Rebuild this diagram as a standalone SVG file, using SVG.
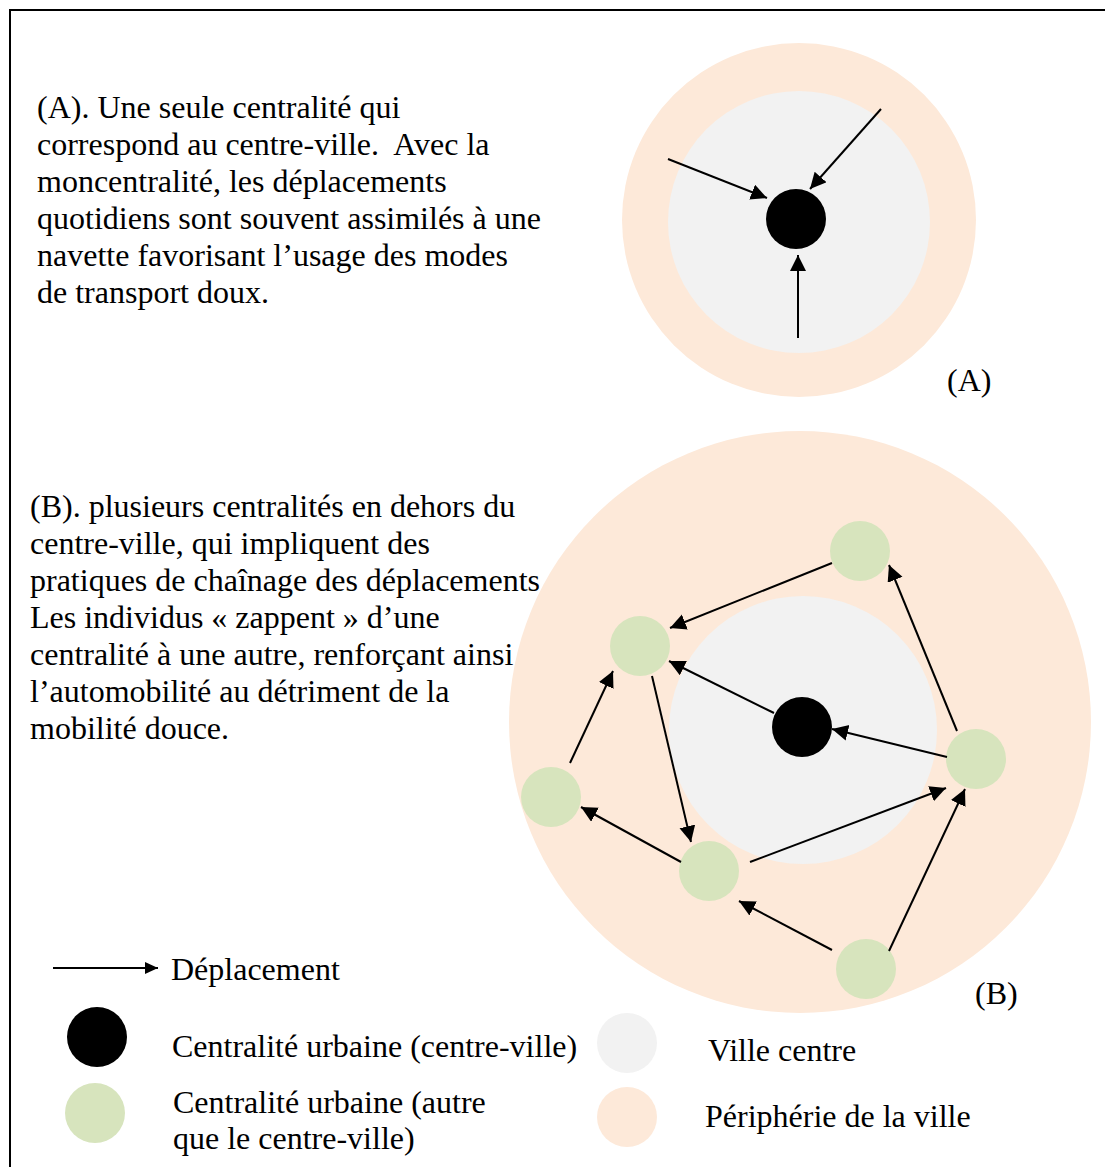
<svg xmlns="http://www.w3.org/2000/svg" width="1105" height="1167" viewBox="0 0 1105 1167">
<style>
text{font-family:"Liberation Serif","Times New Roman",serif;font-size:32px;fill:#000;white-space:pre}
.peach{fill:#FDE9D9}
.grey{fill:#F2F2F2}
.green{fill:#D7E4BD}
.black{fill:#000}
.conn line{stroke:#000;stroke-width:2;marker-end:url(#ah)}
</style>
<defs>
<marker id="ah" markerUnits="userSpaceOnUse" markerWidth="17" markerHeight="17" refX="16" refY="8" orient="auto">
<path d="M0,0 L16,8 L0,16 z" fill="#000"/>
</marker>
<marker id="ahs" markerUnits="userSpaceOnUse" markerWidth="14" markerHeight="14" refX="13" refY="6" orient="auto">
<path d="M0,0 L13,6 L0,12 z" fill="#000"/>
</marker>
</defs>
<rect width="1105" height="1167" fill="#fff"/>
<path d="M10,1167 V10 H1105" fill="none" stroke="#000" stroke-width="2"/>

<g id="textA">
<text x="37" y="118">(A). Une seule centralité qui</text>
<text x="37" y="155" xml:space="preserve">correspond au centre-ville.  Avec la</text>
<text x="37" y="192">moncentralité, les déplacements</text>
<text x="37" y="229">quotidiens sont souvent assimilés à une</text>
<text x="37" y="266">navette favorisant l’usage des modes</text>
<text x="37" y="303">de transport doux.</text>
</g>

<g id="diagramA">
<circle id="A-periph" class="peach" cx="799" cy="220" r="177"/>
<circle id="A-ville" class="grey" cx="799" cy="222" r="131"/>
<circle id="A-centre" class="black" cx="796" cy="219" r="30"/>
<text x="947" y="391">(A)</text>
</g>

<g id="textB">
<text x="30" y="517">(B). plusieurs centralités en dehors du</text>
<text x="30" y="554">centre-ville, qui impliquent des</text>
<text x="30" y="591">pratiques de chaînage des déplacements</text>
<text x="30" y="628">Les individus « zappent » d’une</text>
<text x="30" y="665">centralité à une autre, renforçant ainsi</text>
<text x="30" y="702">l’automobilité au détriment de la</text>
<text x="30" y="739">mobilité douce.</text>
</g>

<g id="diagramB">
<circle id="B-periph" class="peach" cx="800" cy="722" r="291"/>
<circle id="B-ville" class="grey" cx="803" cy="730" r="134"/>
<circle id="B-centre" class="black" cx="802" cy="727" r="30"/>
<circle id="G1" class="green" cx="860" cy="551" r="30"/>
<circle id="G2" class="green" cx="640" cy="646" r="30"/>
<circle id="G3" class="green" cx="551" cy="797" r="30"/>
<circle id="G4" class="green" cx="709" cy="871" r="30"/>
<circle id="G5" class="green" cx="976" cy="759" r="30"/>
<circle id="G6" class="green" cx="866" cy="969" r="30"/>
<text x="975" y="1004">(B)</text>
</g>

<g id="connectors" class="conn">
<line x1="668" y1="159" x2="767" y2="198"/>
<line x1="881" y1="109" x2="810" y2="189"/>
<line x1="798" y1="338" x2="798" y2="255"/>
<line x1="832" y1="563" x2="670" y2="628"/>
<line x1="774" y1="713" x2="669" y2="661"/>
<line x1="947" y1="757" x2="832" y2="729"/>
<line x1="957" y1="731" x2="889" y2="565"/>
<line x1="570" y1="763" x2="613" y2="671"/>
<line x1="652" y1="676" x2="691" y2="842"/>
<line x1="681" y1="862" x2="581" y2="807"/>
<line x1="750" y1="862" x2="946" y2="788"/>
<line x1="832" y1="950" x2="739" y2="901"/>
<line x1="889" y1="951" x2="965" y2="789"/>
</g>

<g id="legend">
<line x1="53" y1="968" x2="158" y2="968" stroke="#000" stroke-width="2" marker-end="url(#ahs)"/>
<text x="171" y="980">Déplacement</text>
<circle class="black" cx="97" cy="1037" r="30"/>
<text x="172" y="1057">Centralité urbaine (centre-ville)</text>
<circle class="green" cx="95" cy="1113" r="30"/>
<text x="173" y="1113">Centralité urbaine (autre</text>
<text x="173" y="1149">que le centre-ville)</text>
<circle class="grey" cx="627" cy="1043" r="30"/>
<text x="708" y="1061">Ville centre</text>
<circle class="peach" cx="627" cy="1117" r="30"/>
<text x="705" y="1127">Périphérie de la ville</text>
</g>
</svg>
